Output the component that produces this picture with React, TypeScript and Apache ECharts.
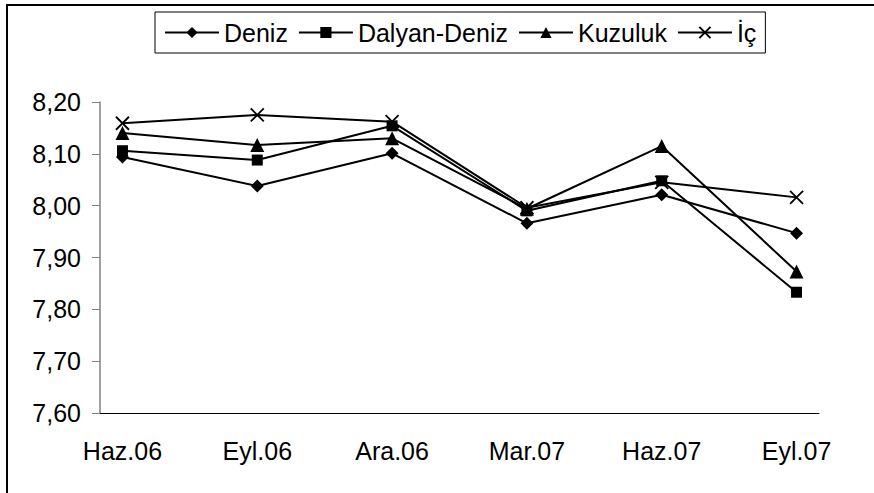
import React, { useEffect, useRef } from "react";
import * as echarts from "echarts";

const months = [
  "Haz.06", "Tem.06", "Ağu.06", "Eyl.06", "Eki.06", "Kas.06",
  "Ara.06", "Oca.07", "Şub.07", "Mar.07", "Nis.07", "May.07",
  "Haz.07", "Tem.07", "Ağu.07", "Eyl.07",
];
const sampleMonths = ["Haz.06", "Eyl.06", "Ara.06", "Mar.07", "Haz.07", "Eyl.07"];
const deniz = [8.094, 8.038, 8.101, 7.966, 8.021, 7.947];
const dalyanDeniz = [8.106, 8.088, 8.154, 7.99, 8.048, 7.833];
const kuzuluk = [8.14, 8.117, 8.13, 7.994, 8.115, 7.873];
const ic = [8.159, 8.175, 8.162, 7.996, 8.045, 8.016];
const seriesNames = ["Deniz", "Dalyan-Deniz", "Kuzuluk", "İç"];

const FONT = "'Liberation Sans', Arial, sans-serif";
const X_PATH = "path://M0,0 L10,10 M10,0 L0,10";

function spread(vals: number[]) {
  return months.map((m) => {
    const i = sampleMonths.indexOf(m);
    return i >= 0 ? vals[i] : null;
  });
}

export default function App() {
  const ref = useRef<HTMLDivElement>(null);
  useEffect(() => {
    const chart = echarts.init(ref.current!, null, { renderer: "svg" });
    const mk = (name: string, vals: number[], symbol: string, size: number) => ({
      name,
      type: "line",
      data: spread(vals),
      connectNulls: true,
      symbol,
      symbolSize: size,
      lineStyle: { color: "#000", width: 2 },
      itemStyle: { color: "#000", borderColor: "#000", borderWidth: symbol === X_PATH ? 1.8 : 0 },
      emphasis: { disabled: true },
    });
    chart.setOption({
      animation: false,
      backgroundColor: "#fff",
      textStyle: { fontFamily: FONT },
      graphic: [
        { type: "line", shape: { x1: 6, y1: 5, x2: 874, y2: 5 }, style: { stroke: "#000", lineWidth: 2 } },
        { type: "line", shape: { x1: 7, y1: 4, x2: 7, y2: 493 }, style: { stroke: "#000", lineWidth: 2 } },
      ],
      legend: {
        left: 155,
        top: 12,
        padding: [8, 9],
        borderColor: "#000",
        borderWidth: 1,
        itemWidth: 54,
        itemHeight: 14,
        itemGap: 10,
        data: seriesNames,
        textStyle: { fontSize: 25, color: "#000", fontFamily: FONT },
      },
      grid: { left: 100, top: 102, right: 55, bottom: 80 },
      xAxis: {
        type: "category",
        data: months,
        boundaryGap: true,
        axisLine: { lineStyle: { color: "#000", width: 1 } },
        axisTick: { interval: 2, length: 8, lineStyle: { color: "#808080" } },
        axisLabel: { interval: 2, fontSize: 25, color: "#000", margin: 25, fontFamily: FONT },
        splitLine: { show: false },
      },
      yAxis: {
        type: "value",
        min: 7.6,
        max: 8.2,
        interval: 0.1,
        axisLine: { show: true, lineStyle: { color: "#808080", width: 1.5 } },
        axisTick: { show: true, length: 8, lineStyle: { color: "#808080" } },
        axisLabel: {
          fontSize: 25,
          color: "#000",
          margin: 19,
          fontFamily: FONT,
          formatter: (v: number) => v.toFixed(2).replace(".", ","),
        },
        splitLine: { show: false },
      },
      series: [
        mk("Deniz", deniz, "diamond", 13),
        mk("Dalyan-Deniz", dalyanDeniz, "rect", 11),
        mk("Kuzuluk", kuzuluk, "triangle", 14),
        mk("İç", ic, X_PATH, 13),
      ],
    });
    return () => chart.dispose();
  }, []);
  return (
    <div
      ref={ref}
      style={{ position: "fixed", left: 0, top: 0, width: 874, height: 493, background: "#fff" }}
    />
  );
}
